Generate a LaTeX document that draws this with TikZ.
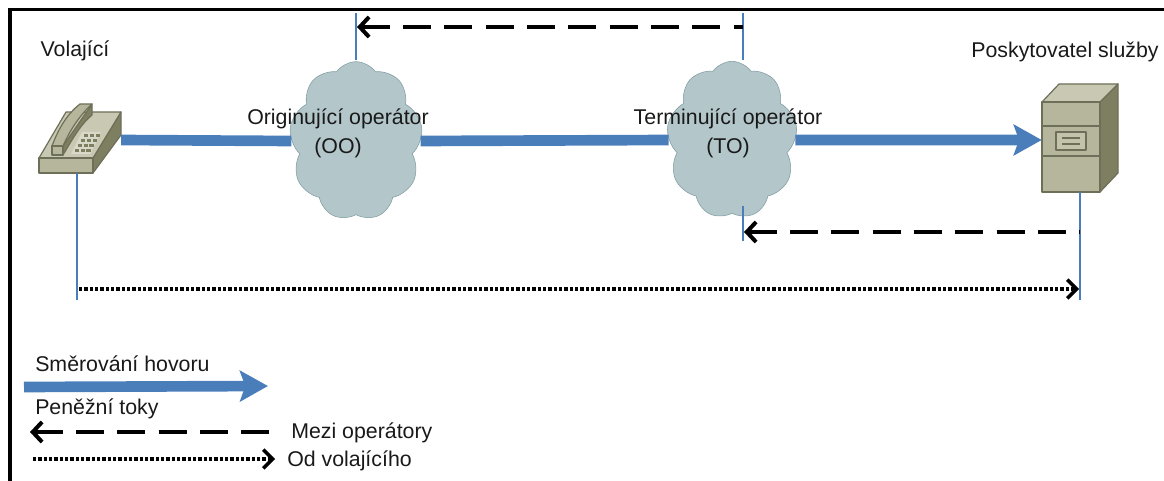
\documentclass[tikz,border=0pt]{standalone}
\usepackage{fontspec}
\setmainfont{Liberation Sans}
\usetikzlibrary{arrows.meta,shapes.symbols}

\definecolor{modra}{HTML}{4A7EBB}
\definecolor{mrak}{HTML}{B3C6CA}
\definecolor{mrakokraj}{HTML}{7F9CA1}
\definecolor{svetla}{HTML}{C9C9B3}
\definecolor{stredni}{HTML}{B6B69C}
\definecolor{tmava}{HTML}{7E7E60}
\definecolor{okraj}{HTML}{6E6F58}

\tikzset{
   popis/.style={font=\fontsize{16}{18}\selectfont, text=black!90, inner sep=0pt},
   mrakuzel/.style={cloud, cloud puffs=9, cloud puff arc=110, draw=mrakokraj, fill=mrak, inner sep=0pt, aspect=0.8},
   hovor/.style={draw=modra, line width=8pt},
   hovorsipka/.style={hovor, -{Stealth[length=21pt,width=23pt,inset=4pt]}},
   svislice/.style={draw=modra, line width=1pt},
   mezi/.style={draw=black, line width=3pt, dash pattern=on 21pt off 10pt, {Straight Barb[length=7pt,width=15pt,line width=3pt]}-},
   odvol/.style={draw=black, line width=2.4pt, dash pattern=on 2.4pt off 1.6pt, -{Straight Barb[length=7pt,width=14pt,line width=2.6pt]}},
   prvek/.style={draw=okraj, line width=0.9pt, line join=round},
}

\begin{document}
\begin{tikzpicture}[x=0.75pt,y=-0.75pt]
\useasboundingbox (0,0) rectangle (1164,481);

% frame of the slide
\draw[line width=2.4pt] (10,481) -- (10,9.5) -- (1164,9.5);
\fill (239,0) arc[start angle=180, end angle=360, x radius=5, y radius=2.5] -- cycle;

% clouds
\node[mrakuzel, minimum width=100pt, minimum height=119pt] (oo) at (356,141) {};
\node[mrakuzel, minimum width=98pt, minimum height=118pt] (to) at (732,140) {};

% phone
\node[minimum width=62pt, minimum height=47pt, inner sep=0pt] (telefon) at (79.5,140) {};
\draw[prvek, fill=tmava] (93,173) -- (121,135) -- (121,112) -- (93,158) -- cycle;
\draw[prvek, fill=svetla] (39,158) -- (66,112) -- (121,112) -- (93,158) -- cycle;
\draw[prvek, fill=stredni] (39,158) rectangle (93,173);
\fill[svetla!70!white] (82,132) -- (101,132) -- (90,154) -- (71,154) -- cycle;
\foreach \r in {0,1,2,3}
   \foreach \s in {0,1,2}
      \fill[tmava] ({84+\s*5.8-\r*3.1},{134+\r*4.9}) rectangle ++(4.4,3.4);
\draw[prvek, fill=tmava] (63,155) -- (63,146) -- (92,104) -- (92,115) .. controls (80,125) and (72,140) .. (63,155) -- cycle;
\draw[prvek, fill=stredni] (52,146) .. controls (58,130) and (66,115) .. (80,104) -- (92,104) .. controls (80,115) and (70,130) .. (63,146) -- cycle;
\draw[prvek, fill=stredni] (52,146) rectangle (63,155);

% server
\node[minimum width=43.5pt, minimum height=67.5pt, inner sep=0pt] (server) at (1071,140) {};
\draw[prvek, fill=tmava] (1100,102) -- (1118,84) -- (1118,173) -- (1100,192) -- cycle;
\draw[prvek, fill=svetla] (1042,102) -- (1059,84) -- (1118,84) -- (1100,102) -- cycle;
\draw[prvek, fill=stredni] (1042,102) rectangle (1100,192);
\draw[prvek] (1042,126) -- (1100,126) (1042,156) -- (1100,156);
\draw[prvek, fill=svetla!70!stredni] (1056,132) rectangle (1086,150);
\draw[prvek] (1062,138) -- (1080,138) (1062,144) -- (1080,144);

% texts
\node[popis] (volajici) at (75,51) {Volající};
\node[popis] (poskytovatel) at (1065,52) {Poskytovatel služby};
\node[popis, align=center] (oopopis) at (338,133.5) {Originující operátor\\[3.5pt](OO)};
\node[popis, align=center] (topopis) at (728,133.5) {Terminující operátor\\[3.5pt](TO)};

% call routing
\draw[hovor] (telefon.east) -- (oo.west);
\draw[hovor] (oo.east) -- (to.west);
\draw[hovorsipka] (to.east) -- (server.west);

% thin verticals
\coordinate (oonahore) at (356,13);
\coordinate (tonahore) at (743,13);
\coordinate (toveznice) at (743,206);
\coordinate (todole) at (743,241);
\coordinate (volkonec) at (77,300);
\coordinate (srvkonec) at (1080,300);
\coordinate (oohrana) at (356,60);
\coordinate (tohrana) at (743,60);
\coordinate (volhrana) at (77,173);
\coordinate (srvhrana) at (1080,192);
\draw[svislice] (oonahore) -- (oohrana);
\draw[svislice] (tonahore) -- (tohrana);
\draw[svislice] (toveznice) -- (todole);
\draw[svislice] (volhrana) -- (volkonec);
\draw[svislice] (srvhrana) -- (srvkonec);

% money flows
\coordinate (a1) at (357,27);
\coordinate (a2) at (743,27);
\coordinate (b1) at (744,232);
\coordinate (b2) at (1080,232);
\coordinate (c1) at (79,289);
\coordinate (c2) at (1079,289);
\draw[mezi] (a1) -- (a2);
\draw[mezi] (b1) -- (b2);
\draw[odvol] (c1) -- (c2);

% legend
\node[popis, anchor=west] (lsmer) at (35,364) {Směrování hovoru};
\node[popis, anchor=west] (ltoky) at (35,409) {Peněžní toky};
\node[popis, anchor=west] (lmezi) at (291,433) {Mezi operátory};
\node[popis, anchor=west] (lvol) at (287,461) {Od volajícího};
\coordinate (l1) at (24,387);
\coordinate (l2) at (268,386);
\coordinate (l3) at (30,432);
\coordinate (l4) at (272,432);
\coordinate (l5) at (33,459);
\coordinate (l6) at (275,459);
\draw[hovorsipka] (l1) -- (l2);
\draw[mezi] (l3) -- (l4);
\draw[odvol] (l5) -- (l6);

\end{tikzpicture}
\end{document}
